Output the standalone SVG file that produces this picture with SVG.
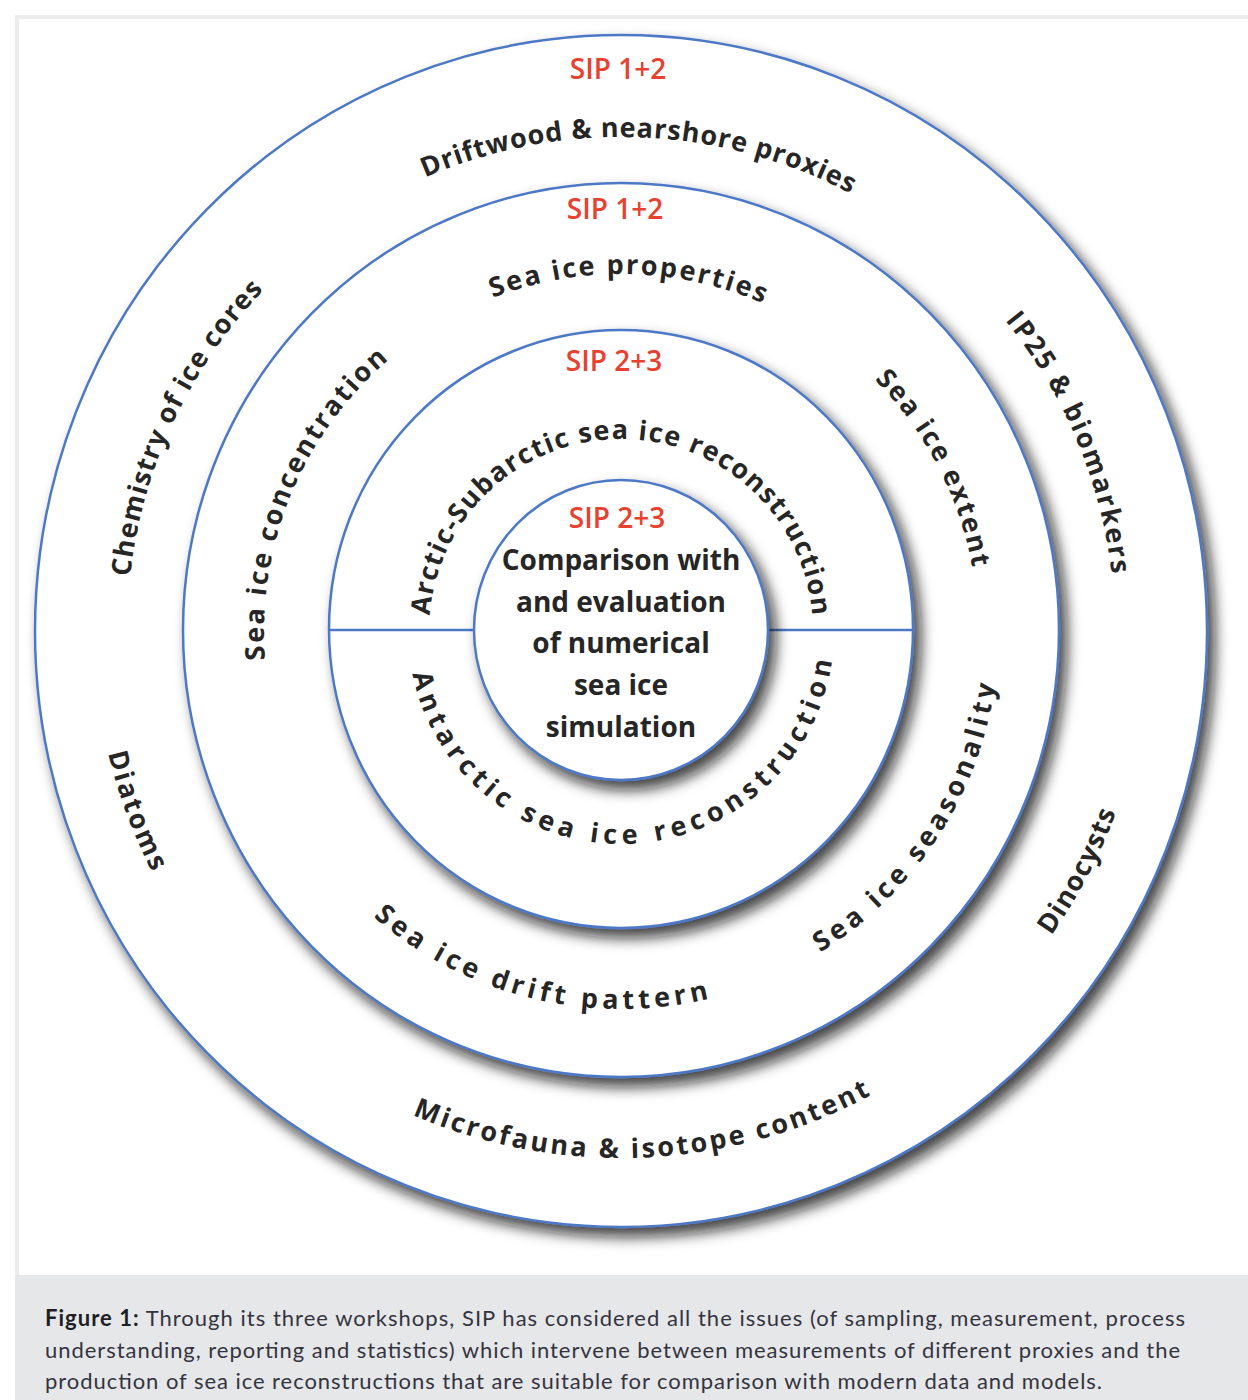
<svg xmlns="http://www.w3.org/2000/svg" xmlns:xlink="http://www.w3.org/1999/xlink" width="1248" height="1400" viewBox="0 0 1248 1400">
<style>
.ring{fill:#fff;stroke:#4d78c6;stroke-width:2.5;filter:url(#sh)}
.conn{stroke:#4d78c6;stroke-width:2.5;fill:none}
.lbl{font-family:"Open Sans","Noto Sans",sans-serif;font-weight:700;font-size:27px;fill:#262626}
.sip{font-family:"Open Sans","Noto Sans",sans-serif;font-weight:600;font-size:28px;fill:#e8412f;text-anchor:middle}
.ctr{font-family:"Open Sans","Noto Sans",sans-serif;font-weight:700;font-size:28px;fill:#262626;text-anchor:middle}
.cap{font-family:Lato,"Noto Sans",sans-serif;font-size:22px;fill:#34343f}
.capb{font-weight:700;fill:#1e1e24}
</style>
<defs>
<filter id="sh" x="-10%" y="-10%" width="125%" height="125%">
<feDropShadow dx="7" dy="9" stdDeviation="7" flood-color="#111" flood-opacity="0.78"/>
</filter>
<path id="o-cw" d="M 621,1125 A 494 494 0 1 1 621,137 A 494 494 0 1 1 621,1125"/>
<path id="o-ccw" d="M 621,104 A 527 527 0 1 0 621,1158 A 527 527 0 1 0 621,104"/>
<path id="m-cw" d="M 621,988 A 357 357 0 1 1 621,274 A 357 357 0 1 1 621,988"/>
<path id="m-ccw" d="M 621,253 A 378 378 0 1 0 621,1009 A 378 378 0 1 0 621,253"/>
<path id="i-cw" d="M 621,823 A 192 192 0 1 1 621,439 A 192 192 0 1 1 621,823"/>
<path id="i-ccw" d="M 621,418 A 213 213 0 1 0 621,844 A 213 213 0 1 0 621,418"/>
</defs>
<rect x="0" y="0" width="1248" height="1400" fill="#fff"/>
<rect x="17" y="17" width="1240" height="1400" fill="#fff" stroke="#ececec" stroke-width="4"/>
<rect x="15" y="1275" width="1233" height="125" fill="#e6e7e9"/>

<g id="ring-outer">
<ellipse class="ring" cx="621" cy="631" rx="586" ry="596"/>
<text class="sip" x="618" y="79">SIP 1+2</text>
<text class="lbl" text-anchor="middle"><textPath href="#o-cw" xlink:href="#o-cw" startOffset="50.6%" textLength="440" lengthAdjust="spacing">Driftwood &amp; nearshore proxies</textPath></text>
<text class="lbl" text-anchor="middle"><textPath href="#o-cw" xlink:href="#o-cw" startOffset="31.94%" textLength="322" lengthAdjust="spacing">Chemistry of ice cores</textPath></text>
<text class="lbl" text-anchor="middle"><textPath href="#o-cw" xlink:href="#o-cw" startOffset="68.67%" textLength="279" lengthAdjust="spacing">IP25 &amp; biomarkers</textPath></text>
<text class="lbl" text-anchor="middle"><textPath href="#o-ccw" xlink:href="#o-ccw" startOffset="50.69%" textLength="475" lengthAdjust="spacing">Microfauna &amp; isotope content</textPath></text>
<text class="lbl" text-anchor="middle"><textPath href="#o-ccw" xlink:href="#o-ccw" startOffset="67.3%" textLength="140" lengthAdjust="spacing">Dinocysts</textPath></text>
<text class="lbl" text-anchor="middle"><textPath href="#o-ccw" xlink:href="#o-ccw" startOffset="30.64%" textLength="127" lengthAdjust="spacing">Diatoms</textPath></text>
</g>

<g id="ring-middle">
<ellipse class="ring" cx="621" cy="630" rx="438" ry="447"/>
<text class="sip" x="615" y="219">SIP 1+2</text>
<text class="lbl" text-anchor="middle"><textPath href="#m-cw" xlink:href="#m-cw" startOffset="50.33%" textLength="277" lengthAdjust="spacing">Sea ice properties</textPath></text>
<text class="lbl" text-anchor="middle"><textPath href="#m-cw" xlink:href="#m-cw" startOffset="31.22%" textLength="337" lengthAdjust="spacing">Sea ice concentration</textPath></text>
<text class="lbl" text-anchor="middle"><textPath href="#m-cw" xlink:href="#m-cw" startOffset="67.36%" textLength="215" lengthAdjust="spacing">Sea ice extent</textPath></text>
<text class="lbl" text-anchor="middle"><textPath href="#m-ccw" xlink:href="#m-ccw" startOffset="65.78%" textLength="330" lengthAdjust="spacing">Sea ice seasonality</textPath></text>
<text class="lbl" text-anchor="middle"><textPath href="#m-ccw" xlink:href="#m-ccw" startOffset="46.19%" textLength="359" lengthAdjust="spacing">Sea ice drift pattern</textPath></text>
</g>

<g id="ring-inner">
<ellipse class="ring" cx="621" cy="629" rx="292" ry="299"/>
<text class="sip" x="614" y="371">SIP 2+3</text>
<text class="lbl" text-anchor="middle"><textPath href="#i-cw" xlink:href="#i-cw" startOffset="50%" textLength="572" lengthAdjust="spacing">Arctic-Subarctic sea ice reconstruction</textPath></text>
<text class="lbl" text-anchor="middle"><textPath href="#i-ccw" xlink:href="#i-ccw" startOffset="50.5%" textLength="596" lengthAdjust="spacing">Antarctic sea ice reconstruction</textPath></text>
</g>

<g id="connectors">
<line class="conn" x1="329" y1="630" x2="474" y2="630"/>
<line class="conn" x1="768" y1="630" x2="912" y2="630"/>
</g>

<g id="core">
<ellipse class="ring" cx="621" cy="630" rx="147" ry="150"/>
<text class="sip" x="617" y="528">SIP 2+3</text>
<text class="ctr" x="621" y="570">Comparison with</text>
<text class="ctr" x="621" y="612">and evaluation</text>
<text class="ctr" x="621" y="653">of numerical</text>
<text class="ctr" x="621" y="695">sea ice</text>
<text class="ctr" x="621" y="737">simulation</text>
</g>

<g id="caption">
<text class="cap" x="45" y="1326" textLength="1140" lengthAdjust="spacing"><tspan class="capb">Figure 1:</tspan> Through its three workshops, SIP has considered all the issues (of sampling, measurement, process</text>
<text class="cap" x="45" y="1358" textLength="1135" lengthAdjust="spacing">understanding, reporting and statistics) which intervene between measurements of different proxies and the</text>
<text class="cap" x="45" y="1389" textLength="1057" lengthAdjust="spacing">production of sea ice reconstructions that are suitable for comparison with modern data and models.</text>
</g>
</svg>
